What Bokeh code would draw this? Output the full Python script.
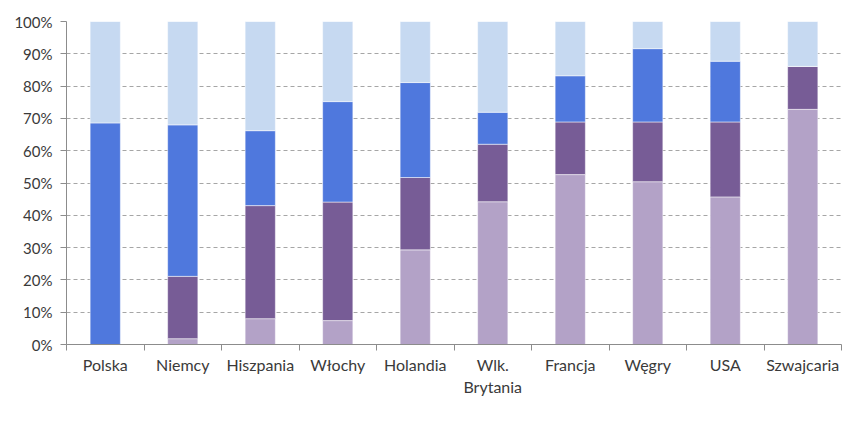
from bokeh.plotting import figure
from bokeh.models import ColumnDataSource, Range1d, FixedTicker, Legend, LegendItem
from bokeh.embed import file_html
from bokeh.resources import INLINE

# Share of unemployed by duration of unemployment, per country (%)
countries = ["Polska", "Niemcy", "Hiszpania", "Włochy", "Holandia",
             "Wlk.\nBrytania", "Francja", "Węgry", "USA", "Szwajcaria"]
do_26_tyg = [0.0, 1.8, 8.0, 7.4, 29.3, 44.2, 52.6, 50.4, 45.7, 72.8]
tyg_26_52 = [0.0, 19.3, 35.0, 36.7, 22.4, 17.8, 16.3, 18.5, 23.2, 13.3]
lat_1_5 = [68.6, 46.9, 23.2, 31.1, 29.4, 9.9, 14.3, 22.7, 18.8, 0.0]
powyzej_5_lat = [31.4, 32.0, 33.8, 24.8, 18.9, 28.1, 16.8, 8.4, 12.3, 13.9]

series_names = ["do 26 tyg", "26-52 tyg", "1-5 lat", "powyżej 5 lat"]
series_keys = ["do_26", "t26_52", "l1_5", "p5"]
colors = ["#B3A2C7", "#775C96", "#4F78DD", "#C6D9F1"]
y_ticks = [0, 10, 20, 30, 40, 50, 60, 70, 80, 90, 100]

FONT = "Lato"
TEXT_COLOR = "#3A3A3A"
AXIS_COLOR = "#8C8C8C"

n = len(countries)
xs = list(range(1, n + 1))
source = ColumnDataSource(dict(x=xs, do_26=do_26_tyg, t26_52=tyg_26_52,
                               l1_5=lat_1_5, p5=powyzej_5_lat))

p = figure(frame_width=775, frame_height=323, output_backend="svg",
           toolbar_location=None,
           x_range=Range1d(0.5, n + 0.5), y_range=Range1d(0, 100),
           min_border_left=66, min_border_right=1, min_border_top=21,
           min_border_bottom=0)
p.outline_line_color = None
p.background_fill_color = "white"
p.border_fill_color = "white"

renderers = p.vbar_stack(series_keys, x="x", width=0.39, color=colors,
                         line_color="white", line_alpha=0.5, line_width=1,
                         source=source)

# x axis: category names at bar centres, tick marks on category boundaries
p.xaxis.ticker = FixedTicker(ticks=xs, minor_ticks=[i + 0.5 for i in range(n + 1)])
p.xaxis.major_label_overrides = {x: c for x, c in zip(xs, countries)}
p.xaxis.major_tick_out = 0
p.xaxis.major_tick_in = 0
p.xaxis.minor_tick_out = 6
p.xaxis.minor_tick_in = 0
p.xaxis.minor_tick_line_color = AXIS_COLOR
p.xaxis.axis_line_color = AXIS_COLOR
p.xaxis.major_label_text_font = FONT
p.xaxis.major_label_text_font_size = "16px"
p.xaxis.major_label_text_color = TEXT_COLOR
p.xaxis.major_label_standoff = 4

# y axis: percentages
p.yaxis.ticker = FixedTicker(ticks=y_ticks)
p.yaxis.major_label_overrides = {t: f"{t}%" for t in y_ticks}
p.yaxis.major_tick_out = 6
p.yaxis.major_tick_in = 0
p.yaxis.minor_tick_line_color = None
p.yaxis.axis_line_color = AXIS_COLOR
p.yaxis.major_tick_line_color = AXIS_COLOR
p.yaxis.major_label_text_font = FONT
p.yaxis.major_label_text_font_size = "15px"
p.yaxis.major_label_text_color = TEXT_COLOR
p.yaxis.major_label_standoff = 8

p.xgrid.visible = False
p.ygrid.ticker = FixedTicker(ticks=y_ticks)
p.ygrid.grid_line_color = "#A6A6A6"
p.ygrid.grid_line_dash = "4 3"
p.ygrid.grid_line_width = 1

legend = Legend(items=[LegendItem(label=name, renderers=[r])
                       for name, r in zip(series_names, renderers)],
                orientation="horizontal", location="center",
                glyph_width=9, glyph_height=9, label_standoff=6, spacing=20,
                label_text_font=FONT, label_text_font_size="16px",
                label_text_color=TEXT_COLOR, border_line_color=None,
                background_fill_alpha=0, margin=0, padding=2)
p.add_layout(legend, "below")

open("out.html", "w").write(file_html(p, INLINE))
